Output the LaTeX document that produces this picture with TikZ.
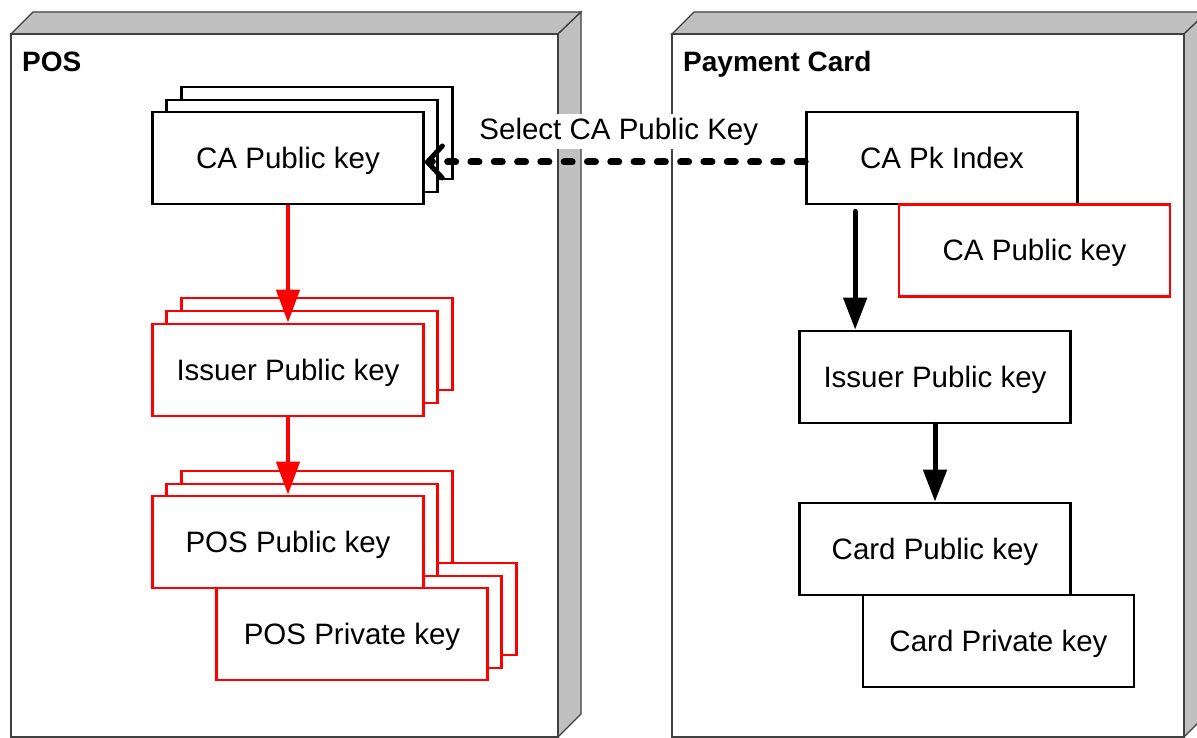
\documentclass[tikz,border=0pt]{standalone}
\usepackage{fontspec}
\setmainfont{Liberation Sans}
\usetikzlibrary{positioning,arrows.meta}

\definecolor{sidegray}{HTML}{C0C0C0}
\definecolor{edgegray}{HTML}{404040}

\tikzset{
	cabfront/.style={draw=edgegray, line width=1.3pt, fill=white},
	cabside/.style={draw=edgegray, line width=1.3pt, fill=sidegray},
	cabtitle/.style={font=\fontsize{28}{34}\selectfont\bfseries, inner sep=0pt, anchor=base west},
	keybox/.style={draw, fill=white, line width=2.7pt, minimum width=271pt, minimum height=92pt, inner sep=0pt, text height=21pt, text depth=0pt, font=\fontsize{29.5}{34}\selectfont},
	redbox/.style={keybox, draw=red},
	redflow/.style={draw=red, line width=4.5pt, -{Triangle[length=33pt,width=23pt]}},
	blackflow/.style={line width=5pt, line cap=round, -{Triangle[length=32pt,width=23pt]}},
	selectflow/.style={line width=7pt, line cap=round, dash pattern=on 8pt off 15.3pt, -{Straight Barb[length=15pt,width=32pt,line width=5pt,round]}},
	msglabel/.style={fill=white, inner sep=4pt, font=\fontsize{29.5}{34}\selectfont},
}

\begin{document}
\begin{tikzpicture}[x=1pt, y=-1pt]
	\useasboundingbox (0,0) rectangle (1197,738);
	% the two devices
	\foreach \l/\r in {11/558, 672/1184} {
		\draw[cabside] (\l,34) -- (\l+22,12) -- (\r+23,12) -- (\r,34) -- cycle;
		\draw[cabside] (\r,34) -- (\r+23,12) -- (\r+23,714) -- (\r,737) -- cycle;
		\draw[cabfront] (\l,34) rectangle (\r,737);
	}
	\node[cabtitle] (postitle) at (22,72) {POS};
	\node[cabtitle] (cardtitle) at (683,72) {Payment Card};

	% POS side, stacked keys
	\foreach \i/\dx/\dy in {2/29/-25, 1/14/-12}
		\node[keybox, shift={(\dx,\dy)}] (poscapk-\i) at (288,158) {};
	\node[keybox] (poscapk) at (288,158) {CA Public key};
	\foreach \i/\dx/\dy in {2/29/-26, 1/14/-13}
		\node[redbox, shift={(\dx,\dy)}] (posissuer-\i) at (288,370) {};
	\node[redbox] (posissuer) at (288,370) {Issuer Public key};
	\foreach \i/\dx/\dy in {2/29/-25, 1/14/-12}
		\node[redbox, shift={(\dx,\dy)}] (pospriv-\i) at (352,634) {};
	\foreach \i/\dx/\dy in {2/29/-25, 1/14/-12}
		\node[redbox, shift={(\dx,\dy)}] (pospub-\i) at (288,542) {};
	\node[redbox] (pospub) at (288,542) {POS Public key};
	\node[redbox] (pospriv) at (352,634) {POS Private key};

	\draw[redflow] (poscapk) -- (posissuer);
	\draw[redflow] (posissuer) -- (pospub);

	% card side
	\node[keybox] (cardpkidx) at (942,158) {CA Pk Index};
	\node[redbox] (cardcapk) at (1034.5,250.5) {CA Public key};
	\node[keybox] (cardissuer) at (935,377) {Issuer Public key};
	\node[keybox] (cardpub) at (935,549) {Card Public key};
	\node[keybox] (cardpriv) at (998.5,641) {Card Private key};

	\coordinate (pkdrop) at ([xshift=50pt,yshift=-6pt]cardpkidx.south west);
	\draw[blackflow] (pkdrop) -- (pkdrop |- cardissuer.north);
	\draw[blackflow] (cardissuer) -- (cardpub);

	% index lookup
	\draw[selectflow] ([yshift=-4pt]cardpkidx.west) -- node[msglabel, above=9pt, pos=0.49] (selectlabel) {Select CA Public Key} ([yshift=-4pt]poscapk.east);
\end{tikzpicture}
\end{document}
